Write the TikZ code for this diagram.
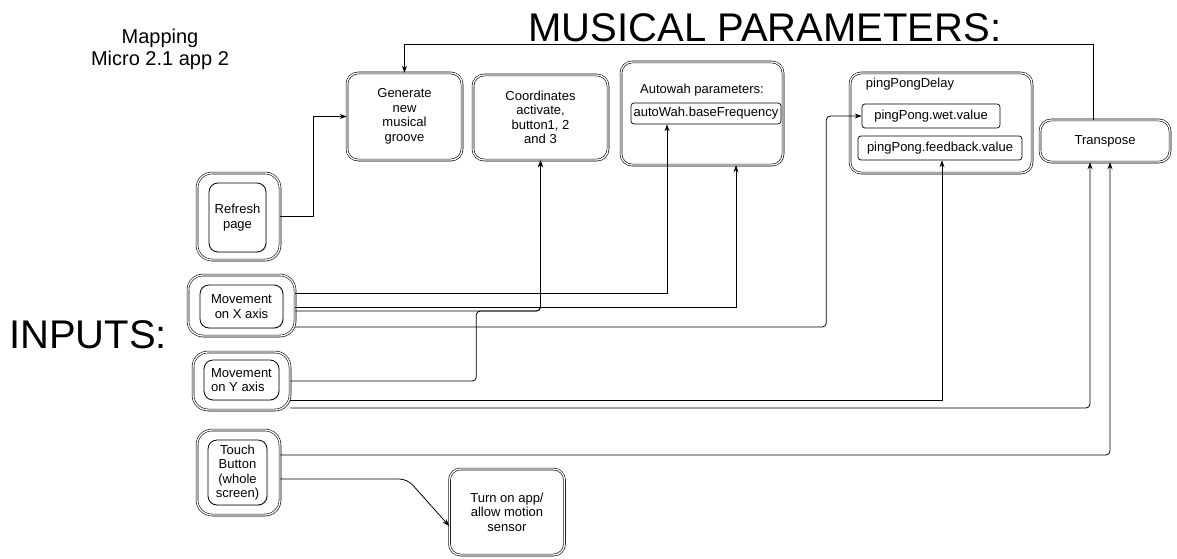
\documentclass[tikz,border=0pt]{standalone}
\usepackage{fontspec}
\setmainfont{Liberation Sans}
\usepackage{tikz}
\usetikzlibrary{arrows.meta,shadows}

\begin{document}
\begin{tikzpicture}[x=1pt, y=-1pt,
			bigbox/.style={draw, double, double distance=1.3pt, line width=0.6pt, rounded corners=11pt, fill=white, align=center, inner sep=2pt, font=\fontsize{13}{14.5}\selectfont, drop shadow={shadow xshift=1.5pt, shadow yshift=-1.5pt, fill=gray!40, opacity=0.5}},
			outbox/.style={bigbox, rounded corners=15pt},
			inbox/.style={draw, line width=0.8pt, rounded corners=9pt, fill=white, align=center, inner sep=1pt, font=\fontsize{13}{14.5}\selectfont, drop shadow={shadow xshift=1pt, shadow yshift=-1pt, fill=gray!40, opacity=0.5}},
			parbox/.style={draw, line width=0.7pt, rounded corners=3pt, fill=white, inner sep=1pt, font=\fontsize{13}{15}\selectfont},
			arr/.style={-{Stealth[length=7pt,width=5pt]}, line width=0.8pt}
		]
		\useasboundingbox (0,0) rectangle (1177,559);

		\node[font=\fontsize{40}{46}\selectfont] (title) at (765, 28) {MUSICAL PARAMETERS:};
		\node[font=\fontsize{40}{46}\selectfont] (inputs) at (88, 335) {INPUTS:};
		\node[align=center, font=\fontsize{20}{22}\selectfont] (mapping) at (160, 49) {Mapping\\Micro 2.1 app 2};

		\node[bigbox, minimum width=115, minimum height=87] (gen) at (404.5, 116.5) {Generate\\new\\musical\\groove};
		\node[bigbox, minimum width=135, minimum height=85] (coord) at (540.5, 117.5) {Coordinates\\activate,\\button1, 2\\and 3};

		\node[bigbox, minimum width=162, minimum height=103] (awah) at (702, 113.5) {};
		\node[font=\fontsize{13}{15}\selectfont] (awtitle) at (702, 90) {Autowah parameters:};
		\node[parbox, minimum width=150, minimum height=21] (awfreq) at (706, 113.5) {autoWah.baseFrequency};

		\node[bigbox, minimum width=182, minimum height=100] (ppd) at (941, 123) {};
		\node[font=\fontsize{13}{15}\selectfont] (ppdtitle) at (910, 84) {pingPongDelay};
		\node[parbox, minimum width=138, minimum height=24] (wet) at (931, 116) {pingPong.wet.value};
		\node[parbox, minimum width=164, minimum height=24] (fb) at (940, 148) {pingPong.feedback.value};

		\node[bigbox, minimum width=130, minimum height=42] (transpose) at (1105, 141) {Transpose};

		\node[outbox, minimum width=83, minimum height=87] (refresh) at (238.5, 216.5) {};
		\node[inbox, minimum width=57, minimum height=69] (refreshin) at (237.5, 217.5) {Refresh\\page};

		\node[outbox, minimum width=107, minimum height=61] (movx) at (241.5, 305.5) {};
		\node[inbox, minimum width=83, minimum height=43] (movxin) at (241.5, 306.5) {Movement\\on X axis};

		\node[outbox, minimum width=97, minimum height=58] (movy) at (241.5, 381) {};
		\node[inbox, align=left, minimum width=75, minimum height=40] (movyin) at (241.5, 380) {Movement\\on Y axis};

		\node[outbox, minimum width=83, minimum height=85] (touch) at (238.5, 472.5) {};
		\node[inbox, minimum width=59, minimum height=65] (touchin) at (237.5, 472.5) {Touch\\Button\\(whole\\screen)};

		\node[bigbox, minimum width=115, minimum height=86] (turnon) at (507, 512) {Turn on app/\\allow motion\\sensor};

		\draw[arr] ([xshift=-12pt]transpose.north) -- ++(0,-75) -| (gen.north);
		\draw[arr] (refresh.east) -- ++(33,0) |- (gen.west);

		\draw[arr] ([yshift=12.5pt]movx.east) -| ([xshift=-39pt]awfreq.south);
		\draw[arr] ([yshift=-1.5pt]movx.east) -| ([xshift=34pt]awah.south);
		\draw[arr, rounded corners=4pt] ([yshift=-5.5pt]movx.east) -| (coord.south);
		\draw[arr, rounded corners=4pt] ([yshift=-21.5pt]movx.east) -- ++(531,0) |- (wet.west);

		\draw[arr, rounded corners=4pt] (movy.east) -| ++(186,-70) -| (coord.south);
		\draw[arr] ([yshift=-19pt]movy.east) -| ([xshift=2pt]fb.south);
		\draw[arr, rounded corners=4pt] ([yshift=-27pt]movy.east) -| ([xshift=-15pt]transpose.south);

		\draw[arr, rounded corners=4pt] ([yshift=17.5pt]touch.east) -| ([xshift=5pt]transpose.south);
		\draw[arr, rounded corners=8pt] ([yshift=-6.5pt]touch.east) -- ++(127,0) -- ([yshift=-14pt]turnon.west);

	\end{tikzpicture}
\end{document}
